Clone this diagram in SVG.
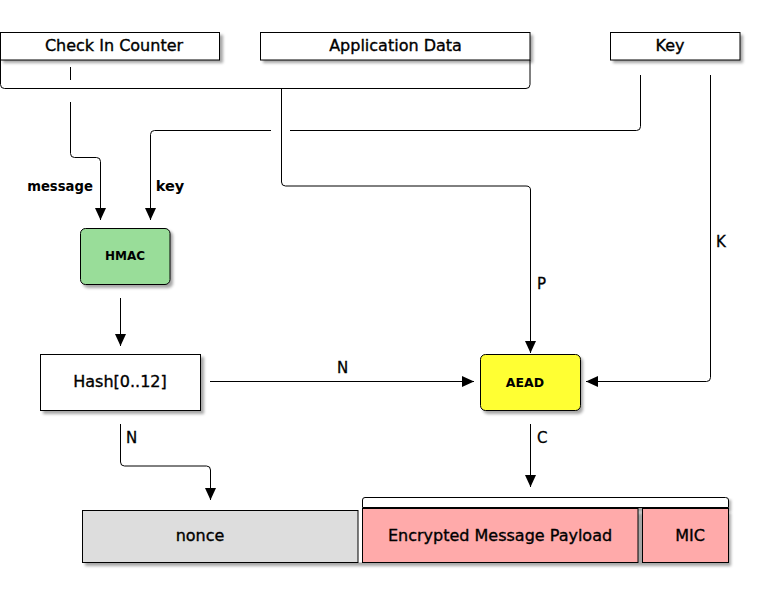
<svg xmlns="http://www.w3.org/2000/svg" width="762" height="596" viewBox="0 0 762 596">
<style>
.box{stroke:#000;stroke-width:1}
.t{font-family:"DejaVu Sans","Liberation Sans",sans-serif;font-size:16px;fill:#000;stroke:#000;stroke-width:0.35;text-anchor:middle}
.b{font-family:"DejaVu Sans","Liberation Sans",sans-serif;font-weight:bold;fill:#000;text-anchor:middle}
.l{font-family:"DejaVu Sans","Liberation Sans",sans-serif;font-size:15px;fill:#000;stroke:#000;stroke-width:0.3}
.c{fill:none;stroke:#000;stroke-width:1}
.sh{fill:#000;opacity:0.35;filter:url(#blur)}
</style>
<defs>
<filter id="blur" x="-10%" y="-10%" width="130%" height="140%"><feGaussianBlur stdDeviation="1.6"/></filter>
<marker id="arr" viewBox="0 0 12 12" refX="12" refY="6" markerWidth="12" markerHeight="12" markerUnits="userSpaceOnUse" orient="auto"><path d="M0,0.5 L12,6 L0,11.5 Z" fill="#000"/></marker>
</defs>
<rect width="762" height="596" fill="#fff"/>

<g id="check-in-counter">
<rect class="sh" x="3" y="35" width="220" height="28"/>
<rect class="box" x="0.5" y="32.5" width="219" height="27.5" fill="#fff"/>
<text class="t" x="114" y="51">Check In Counter</text>
</g>
<g id="application-data">
<rect class="sh" x="263" y="35" width="270" height="28"/>
<rect class="box" x="260.5" y="32.5" width="269.5" height="27.5" fill="#fff"/>
<text class="t" x="395.5" y="51">Application Data</text>
</g>
<g id="key">
<rect class="sh" x="613" y="35" width="130" height="28"/>
<rect class="box" x="610.5" y="32.5" width="129.5" height="27.5" fill="#fff"/>
<text class="t" x="670" y="51">Key</text>
</g>

<g id="hmac">
<rect class="sh" x="83" y="231" width="90" height="57" rx="5"/>
<rect class="box" x="80.5" y="228.5" width="89.5" height="56" rx="5" fill="#99dd99"/>
<text class="b" x="125" y="260" font-size="12">HMAC</text>
</g>
<g id="hash">
<rect class="sh" x="43" y="357" width="161" height="57"/>
<rect class="box" x="40.5" y="354.5" width="160" height="56" fill="#fff"/>
<text class="t" x="120" y="387">Hash[0..12]</text>
</g>
<g id="aead">
<rect class="sh" x="483" y="357" width="100" height="57" rx="5"/>
<rect class="box" x="480.5" y="354.5" width="100" height="56" rx="5" fill="#ffff33"/>
<text class="b" x="525" y="387" font-size="12.5">AEAD</text>
</g>

<g id="packet">
<rect class="sh" x="85" y="513" width="646" height="53"/>
<rect class="sh" x="365" y="500" width="366" height="12"/>
<path d="M362.5,507.5 V500 Q362.5,497.5 365,497.5 H725.5 Q728.5,497.5 728.5,500 V507.5 Z" style="fill:#fff;stroke:#000;stroke-width:1"/>
<rect x="358" y="508" width="5" height="54.5" fill="#fff"/>
<rect class="box" x="82.5" y="510.5" width="275.5" height="52" fill="#dddddd"/>
<text class="t" x="200" y="541">nonce</text>
<rect class="box" x="362.5" y="508.5" width="275.5" height="54" fill="#ffaaaa"/>
<text class="t" x="500" y="541">Encrypted Message Payload</text>
<rect class="box" x="642.5" y="508.5" width="86" height="54" fill="#ffaaaa"/>
<text class="t" x="690" y="541" font-size="15">MIC</text>
</g>

<g id="connectors">
<path class="c" d="M0.5,60 V84.5 Q0.5,88.5 4.5,88.5 H526 Q530,88.5 530,84.5 V60"/>
<path class="c" d="M70.5,67 V80"/>
<path class="c" d="M70.5,102 V153.5 Q70.5,157.5 74.5,157.5 H96.5 Q100.5,157.5 100.5,161.5 V220" marker-end="url(#arr)"/>
<path class="c" d="M640.5,75 V126.5 Q640.5,130.5 636.5,130.5 H290"/>
<path class="c" d="M271,130.5 H154.5 Q150.5,130.5 150.5,134.5 V220" marker-end="url(#arr)"/>
<path class="c" d="M281.5,88.5 V182 Q281.5,186 285.5,186 H526 Q530.5,186 530.5,190 V353" marker-end="url(#arr)"/>
<path class="c" d="M710.5,75 V377.5 Q710.5,381.5 706.5,381.5 H586" marker-end="url(#arr)"/>
<path class="c" d="M120.5,298 V346" marker-end="url(#arr)"/>
<path class="c" d="M210,381.5 H474" marker-end="url(#arr)"/>
<path class="c" d="M120.5,424 V462 Q120.5,466 124.5,466 H206.5 Q210.5,466 210.5,470 V500" marker-end="url(#arr)"/>
<path class="c" d="M530.5,424 V487" marker-end="url(#arr)"/>
<text class="b" x="60" y="191" font-size="13.2">message</text>
<text class="b" x="170" y="191" font-size="14.5">key</text>
<text class="l" x="537" y="289">P</text>
<text class="l" x="716" y="247">K</text>
<text class="l" x="337" y="373">N</text>
<text class="l" x="126" y="443">N</text>
<text class="l" x="537" y="443">C</text>
</g>
</svg>
